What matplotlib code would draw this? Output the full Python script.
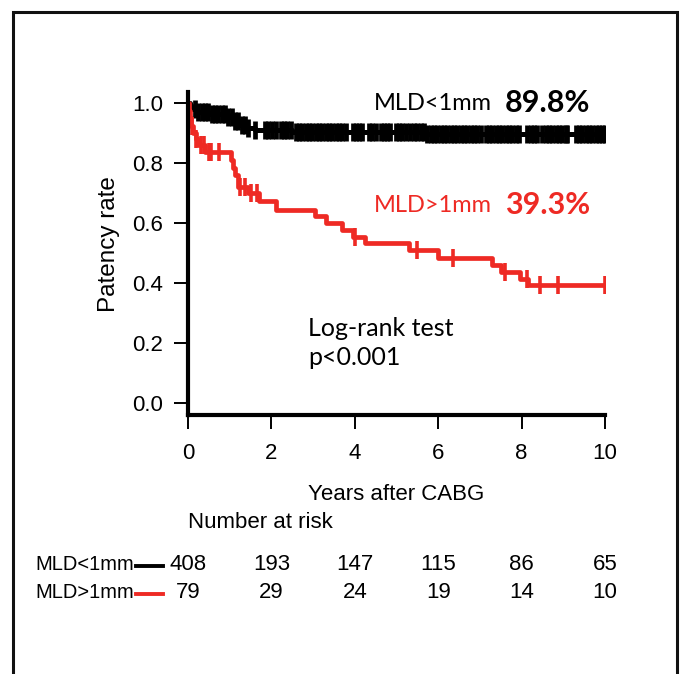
import matplotlib
matplotlib.use("Agg")
import matplotlib.pyplot as plt
from matplotlib.patches import Rectangle
from matplotlib.transforms import blended_transform_factory

# Kaplan-Meier steps
black_t = [0, 0.04, 0.1, 0.2, 0.5, 0.95, 1.1, 1.25, 1.4, 1.6, 2.5, 5.7]
black_s = [1.0, 0.99, 0.98, 0.97, 0.962, 0.952, 0.94, 0.928, 0.918, 0.91, 0.905, 0.898]
black_cens = [0.17, 0.25, 0.33, 0.41, 0.49, 0.57, 0.65, 0.73, 0.81, 0.89, 0.97,
              1.05, 1.13, 1.21, 1.29, 1.37, 1.45, 1.6, 1.85, 1.93, 2.02, 2.1,
              2.22, 2.3, 2.38, 2.46, 2.58, 2.66, 2.74, 2.82, 2.9, 2.98, 3.06,
              3.14, 3.22, 3.3, 3.38, 3.46, 3.54, 3.62, 3.7, 3.78, 3.95, 4.03,
              4.11, 4.18, 4.34, 4.42, 4.5, 4.62, 4.7, 4.78, 4.84, 4.98, 5.06,
              5.14, 5.22, 5.32, 5.42, 5.5, 5.58, 5.66, 5.72, 5.82, 5.9, 5.98,
              6.06, 6.14, 6.22, 6.3, 6.38, 6.46, 6.54, 6.62, 6.7, 6.78, 6.86,
              6.92, 7.02, 7.14, 7.22, 7.3, 7.38, 7.46, 7.54, 7.62, 7.7, 7.78,
              7.86, 7.94, 8.14, 8.22, 8.3, 8.38, 8.5, 8.58, 8.66, 8.74, 8.82,
              8.9, 8.98, 9.06, 9.1, 9.3, 9.38, 9.46, 9.54, 9.62, 9.7, 9.78,
              9.86, 9.94, 10.0]

red_t = [0, 0.02, 0.05, 0.08, 0.12, 0.18, 0.25, 0.4, 1.02, 1.08, 1.13, 1.2,
         1.45, 1.7, 2.1, 3.05, 3.3, 3.7, 3.96, 4.24, 5.3, 6.0, 7.3, 7.5, 7.96, 8.15]
red_s = [1.0, 0.975, 0.95, 0.925, 0.9, 0.88, 0.86, 0.837, 0.81, 0.785, 0.76, 0.72,
         0.70, 0.672, 0.645, 0.622, 0.6, 0.577, 0.553, 0.533, 0.51, 0.483, 0.46,
         0.437, 0.415, 0.393]
red_cens = [0.1, 0.2, 0.3, 0.38, 0.5, 0.55, 0.75, 1.25, 1.37, 1.5, 1.65, 4.0,
            5.5, 6.35, 7.6, 8.13, 8.45, 8.87, 10.0]

risk_times = [0, 2, 4, 6, 8, 10]
risk_low = [408, 193, 147, 115, 86, 65]
risk_high = [79, 29, 24, 19, 14, 10]

RED = "#ee2a24"
SANS = "Liberation Sans"


def km_at(ts, ss, x):
    v = ss[0]
    for t, s in zip(ts, ss):
        if t <= x:
            v = s
    return v


fig = plt.figure(figsize=(6.81, 6.74), dpi=100)
ax = fig.add_axes([188 / 681, 1 - 415 / 674, (605 - 188) / 681, (415 - 92) / 674])

ax.step(black_t + [10], black_s + [black_s[-1]], where="post", color="black", lw=3.6)
ax.plot(black_cens, [km_at(black_t, black_s, c) for c in black_cens], ls="none",
        marker="|", ms=12.5, mew=3.4, color="black")
ax.step(red_t + [10], red_s + [red_s[-1]], where="post", color=RED, lw=3.4)
ax.plot(red_cens, [km_at(red_t, red_s, c) for c in red_cens], ls="none",
        marker="|", ms=13, mew=2.6, color=RED)

ax.set_xlim(0, 10)
ax.set_ylim(-0.04, 1.037)
ax.set_xticks([0, 2, 4, 6, 8, 10])
ax.set_yticks([0.0, 0.2, 0.4, 0.6, 0.8, 1.0])
ax.set_yticklabels(["0.0", "0.2", "0.4", "0.6", "0.8", "1.0"])
for s in ["top", "right"]:
    ax.spines[s].set_visible(False)
for s in ["left", "bottom"]:
    ax.spines[s].set_linewidth(3.0)
ax.tick_params(direction="out", length=10, width=1.4, labelsize=16, pad=8)
ax.tick_params(axis="x", pad=10)
for lab in ax.get_xticklabels() + ax.get_yticklabels():
    lab.set_family(SANS)

ax.set_ylabel("Patency rate", fontsize=17.5, family=SANS)
ax.yaxis.set_label_coords(-0.162, 0.53)

# annotations inside the plot
cal = ["Lato", "DejaVu Sans"]
ax.text(4.45, 1.0, "MLD<1mm", fontsize=17, family=cal, ha="left", va="center")
ax.text(7.6, 1.0, "89.8%", fontsize=22, family=cal, weight="bold", ha="left", va="center")
ax.text(4.45, 0.66, "MLD>1mm", fontsize=17, family=cal, color=RED, ha="left", va="center")
ax.text(7.6, 0.66, "39.3%", fontsize=22, family=cal, weight="bold", color=RED,
        ha="left", va="center")
ax.text(2.88, 0.2, "Log-rank test\np<0.001", fontsize=18, family=cal, ha="left",
        va="center", linespacing=1.35)

# number at risk table
tr = blended_transform_factory(ax.transData, fig.transFigure)
fy = lambda py: 1 - py / 674
ax.text(5, fy(495), "Years after CABG", transform=tr, ha="center", va="center",
        fontsize=16, family=SANS, clip_on=False)
ax.text(0, fy(523), "Number at risk", transform=tr, ha="left", va="center",
        fontsize=16, family=SANS, clip_on=False)
for t, a, b in zip(risk_times, risk_low, risk_high):
    ax.text(t, fy(565), str(a), transform=tr, ha="center", va="center",
            fontsize=16, family=SANS, clip_on=False)
    ax.text(t, fy(593), str(b), transform=tr, ha="center", va="center",
            fontsize=16, family=SANS, clip_on=False)
fig.text(35 / 681, fy(565), "MLD<1mm", ha="left", va="center", fontsize=14.5,
         family=SANS)
fig.text(35 / 681, fy(593), "MLD>1mm", ha="left", va="center", fontsize=14.5,
         family=SANS)
fig.add_artist(plt.Line2D([136 / 681, 163 / 681], [fy(566), fy(566)], color="black", lw=2.8))
fig.add_artist(plt.Line2D([136 / 681, 163 / 681], [fy(594), fy(594)], color=RED, lw=2.8))

# outer frame
fig.add_artist(Rectangle((13 / 681, -0.02), (677 - 13) / 681, 1.02 - 12 / 674,
                         transform=fig.transFigure, fill=False, ec="#111111", lw=2.2))

fig.savefig("out.png", dpi=100)
